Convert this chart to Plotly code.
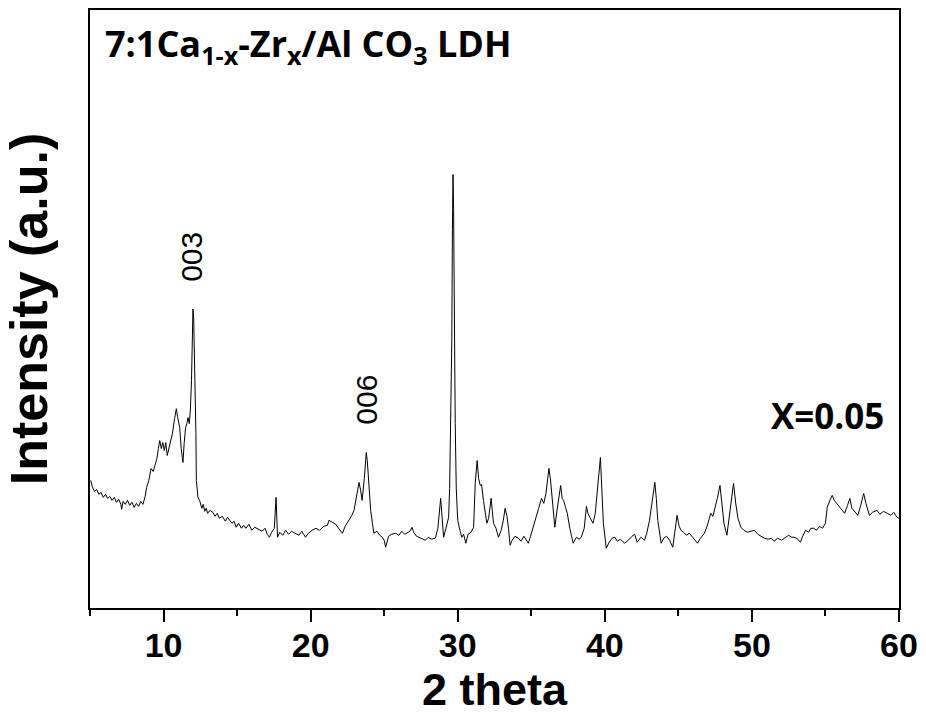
import plotly.graph_objects as go

two_theta = [5.05,5.15,5.3,5.45,5.6,5.75,5.9,6.05,6.2,6.35,6.5,6.65,6.8,6.95,7.1,7.15,7.25,7.4,7.55,7.7,7.85,8.0,8.15,8.3,8.45,8.6,8.75,8.85,9.0,9.15,9.3,9.45,9.55,9.65,9.74,9.85,9.95,10.05,10.15,10.25,10.35,10.45,10.6,10.75,10.87,10.95,11.1,11.2,11.32,11.4,11.5,11.6,11.66,11.75,11.82,11.9,11.96,12.0,12.05,12.1,12.16,12.2,12.23,12.3,12.34,12.45,12.5,12.6,12.7,12.8,12.9,13.0,13.15,13.35,13.5,13.65,13.8,14.0,14.2,14.35,14.5,14.65,14.8,14.94,15.1,15.3,15.45,15.6,15.8,16.0,16.2,16.5,16.7,16.9,17.05,17.2,17.35,17.53,17.6,17.65,17.7,17.75,17.9,18.1,18.3,18.5,18.7,19.0,19.2,19.4,19.65,19.85,20.1,20.36,20.6,20.9,21.14,21.25,21.45,21.7,21.9,22.16,22.35,22.6,22.8,22.95,23.1,23.29,23.4,23.5,23.65,23.78,23.85,23.95,24.08,24.2,24.3,24.5,24.7,24.87,25.0,25.1,25.3,25.5,25.77,26.0,26.2,26.4,26.6,26.75,26.9,27.0,27.2,27.5,27.8,28.0,28.2,28.48,28.65,28.84,28.95,29.04,29.2,29.38,29.45,29.52,29.6,29.64,29.68,29.72,29.76,29.83,29.9,30.0,30.15,30.28,30.4,30.55,30.7,30.9,31.08,31.19,31.32,31.42,31.53,31.62,31.75,31.88,31.98,32.1,32.27,32.35,32.43,32.6,32.77,32.95,33.1,33.22,33.35,33.45,33.56,33.7,33.9,34.12,34.3,34.5,34.65,34.8,34.95,35.14,35.3,35.5,35.7,35.85,36.0,36.2,36.3,36.43,36.6,36.75,36.9,37.0,37.1,37.2,37.33,37.45,37.62,37.85,38.07,38.25,38.4,38.6,38.75,38.85,38.98,39.2,39.35,39.5,39.6,39.7,39.8,39.9,40.1,40.3,40.5,40.68,40.85,41.05,41.35,41.6,41.85,42.03,42.2,42.45,42.7,42.85,43.04,43.2,43.4,43.5,43.6,43.83,44.0,44.2,44.4,44.62,44.75,44.91,45.05,45.18,45.35,45.55,45.75,46.0,46.3,46.5,46.77,46.95,47.2,47.35,47.5,47.65,47.83,47.95,48.1,48.3,48.45,48.6,48.75,48.9,49.05,49.25,49.45,49.7,50.0,50.16,50.4,50.6,50.84,51.1,51.3,51.5,51.75,52.0,52.2,52.5,52.7,52.86,53.05,53.3,53.45,53.65,53.85,54.0,54.2,54.4,54.6,54.8,55.0,55.12,55.3,55.46,55.6,55.8,56.0,56.15,56.3,56.5,56.66,56.8,57.0,57.2,57.4,57.6,57.75,57.99,58.2,58.5,58.7,58.95,59.2,59.45,59.65,59.86,60.0]

intensity = [128,122,117,119,114,116,111,114,110,112,108,111,106,109,104,99,107,104,108,103,106,101,105,102,107,104,112,121,128,140,137,146,150,160,168,160,166,158,166,153,160,168,175,190,200,192,181,160,146,165,181,186,191,185,198,228,280,300,290,260,228,175,128,115,111,108,106,100,104,97,100,95,98,96,92,95,90,92,87,91,88,85,87,81,85,80,83,80,84,78,81,79,77,80,74,71,76,80,95,111,90,71,76,73,78,74,77,75,73,77,71,75,78,80,78,82,83,88,86,84,80,75,82,88,93,98,110,126,118,108,130,156,148,128,98,85,75,77,73,71,68,61,72,74,75,73,77,74,76,77,81,76,72,70,68,71,69,70,80,110,85,71,80,91,120,175,271,380,435,400,300,185,120,88,78,71,74,65,74,76,81,125,148,130,123,124,108,92,85,90,110,98,85,80,71,78,88,100,92,80,63,68,72,70,67,72,68,65,72,81,88,100,110,105,115,140,130,105,81,98,115,123,110,108,101,95,80,65,71,69,71,80,102,95,91,85,95,115,135,151,120,85,60,66,70,71,67,69,65,68,72,74,66,71,68,75,88,105,126,110,88,65,70,72,68,61,75,93,82,78,76,73,75,70,65,70,75,82,95,92,100,110,123,105,85,73,90,110,125,105,90,81,78,76,77,78,74,72,70,69,70,67,70,68,70,73,71,71,70,66,72,78,76,80,80,78,82,80,85,101,108,113,108,104,100,98,95,103,110,100,96,93,103,115,105,93,96,98,94,97,95,93,96,91,90]

x_ticks = [10, 20, 30, 40, 50, 60]
peak_labels = ["003", "006"]
peak_x = [11.91, 23.83]
peak_y = [352, 209]
title_text = "7:1Ca<sub>1-x</sub>-Zr<sub>x</sub>/Al CO<sub>3</sub> LDH"
sample_text = "X=0.05"

fig = go.Figure()
fig.add_trace(go.Scatter(x=two_theta, y=intensity, mode="lines",
                         line=dict(color="black", width=1), showlegend=False))

for lab, px, py in zip(peak_labels, peak_x, peak_y):
    fig.add_annotation(x=px, y=py, text=lab, showarrow=False, textangle=-90,
                       font=dict(family="Liberation Sans, Arial", size=30, color="black"))

fig.add_annotation(x=0.016, y=0.94, xref="paper", yref="paper", xanchor="left", yanchor="middle",
                   text=title_text, showarrow=False,
                   font=dict(family="Open Sans", size=36, color="black", weight="bold"))
fig.add_annotation(x=55.12, y=193, text=sample_text, showarrow=False,
                   font=dict(family="Open Sans", size=35, color="black", weight="bold"))

axis_font = "Liberation Sans, Arial"
fig.update_xaxes(range=[5, 60], tickvals=x_ticks, ticks="outside", ticklen=12, tickwidth=2,
                 tickcolor="black", showline=True, linewidth=2, linecolor="black", mirror=True,
                 showgrid=False, zeroline=False, ticklabelstandoff=-6,
                 minor=dict(dtick=5, tick0=0, ticks="outside", ticklen=6, tickwidth=2, tickcolor="black"),
                 tickfont=dict(family=axis_font, size=34, color="black", weight="bold"),
                 title=dict(text="2 theta", standoff=6,
                            font=dict(family="Liberation Sans, Arial", size=45, color="black", weight="bold")))
fig.update_yaxes(range=[0, 600], showticklabels=False, ticks="", showline=True, linewidth=2,
                 linecolor="black", mirror=True, showgrid=False, zeroline=False,
                 title=dict(text="Intensity (a.u.)", standoff=24,
                            font=dict(family="Liberation Sans, Arial", size=52, color="black", weight="bold")))
fig.update_layout(width=926, height=722, margin=dict(l=90, r=24, t=8, b=114),
                  plot_bgcolor="white", paper_bgcolor="white")
fig.write_html("out.html")
